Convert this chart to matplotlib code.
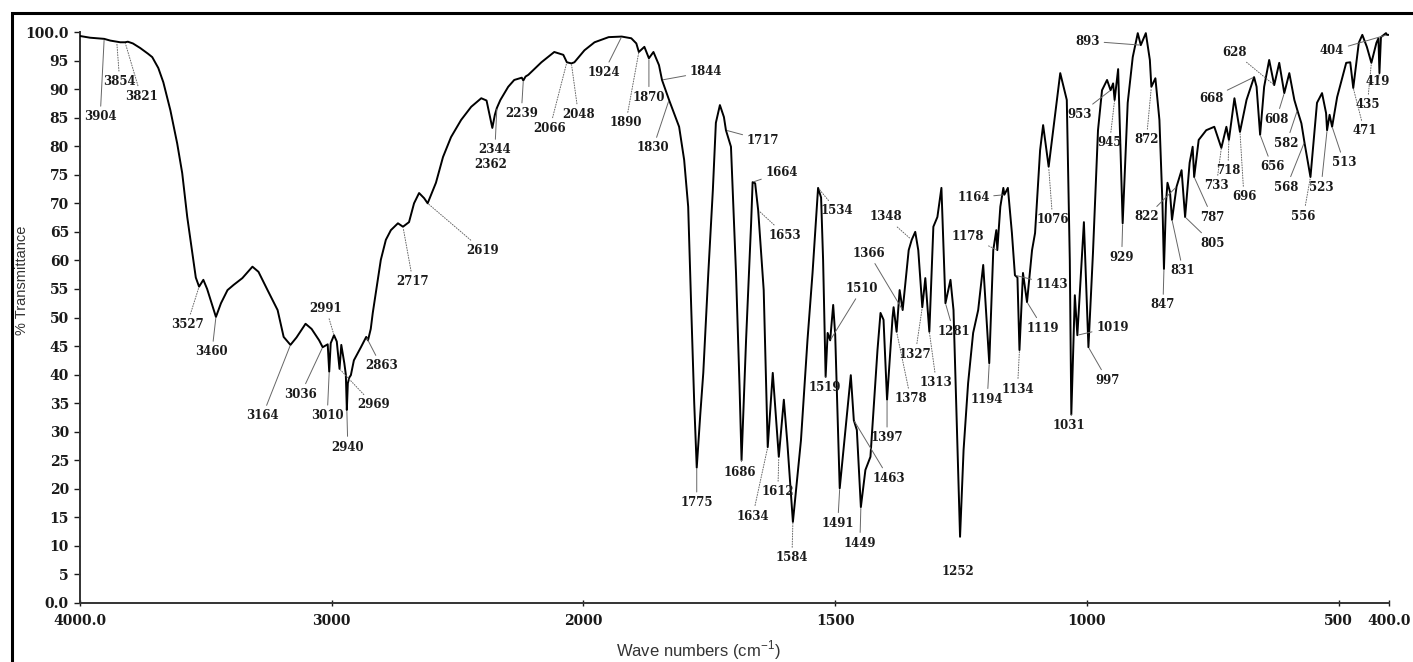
import numpy as np
import matplotlib
matplotlib.use('Agg')
import matplotlib.pyplot as plt
from matplotlib.patches import Rectangle

plt.rcParams['mathtext.fontset'] = 'custom'
plt.rcParams['mathtext.rm'] = 'Liberation Sans'

# IR spectrum: wavenumber (cm-1) and % transmittance
wavenumber = [4000, 3960, 3904, 3880, 3854, 3840, 3821, 3810, 3790, 3761, 3730, 3713, 3689, 3669, 3641,
              3614, 3594, 3574, 3554, 3540, 3527, 3510, 3495, 3460, 3440, 3414, 3390, 3355, 3315, 3291,
              3255, 3215, 3191, 3164, 3140, 3104, 3080, 3050, 3036, 3016, 3010, 3004, 2991, 2980, 2969,
              2962, 2950, 2944, 2940, 2936, 2930, 2924, 2912, 2884, 2870, 2863, 2856, 2845, 2837, 2825,
              2805, 2785, 2765, 2737, 2717, 2693, 2673, 2653, 2633, 2619, 2586, 2558, 2526, 2486, 2446,
              2406, 2385, 2362, 2352, 2344, 2330, 2299, 2275, 2245, 2239, 2230, 2219, 2167, 2116, 2080,
              2066, 2048, 2036, 1998, 1978, 1950, 1924, 1905, 1895, 1890, 1879, 1870, 1861, 1850, 1844,
              1830, 1810, 1800, 1792, 1786, 1780, 1775, 1768, 1762, 1752, 1743, 1737, 1729, 1721, 1717,
              1707, 1697, 1690, 1686, 1677, 1667, 1664, 1659, 1653, 1642, 1634, 1624, 1612, 1602, 1595,
              1584, 1568, 1555, 1545, 1534, 1528, 1524, 1519, 1515, 1510, 1504, 1500, 1491, 1469, 1463,
              1457, 1449, 1440, 1430, 1416, 1410, 1404, 1397, 1386, 1384, 1378, 1372, 1366, 1354, 1348,
              1341, 1335, 1327, 1321, 1313, 1305, 1297, 1289, 1284, 1281, 1271, 1265, 1252, 1245, 1236,
              1226, 1216, 1206, 1194, 1186, 1180, 1178, 1172, 1166, 1164, 1157, 1149, 1143, 1138, 1134,
              1127, 1119, 1109, 1103, 1093, 1087, 1076, 1053, 1040, 1034, 1031, 1024, 1019, 1006, 997,
              988, 978, 970, 960, 953, 948, 945, 938, 929, 919, 909, 899, 893, 883, 875,
              872, 864, 856, 850, 847, 843, 840, 835, 831, 822, 812, 805, 796, 790, 787,
              778, 763, 747, 733, 723, 718, 707, 696, 683, 668, 663, 656, 648, 638, 628,
              618, 608, 598, 588, 582, 574, 568, 556, 543, 533, 525, 523, 518, 513, 503,
              485, 477, 471, 460, 453, 444, 435, 425, 421, 419, 416, 406, 404, 400]
transmittance = [99.3, 99.0, 98.8, 98.5, 98.3, 98.2, 98.2, 98.3, 98.0, 97.2, 96.2, 95.6, 93.7, 91.2, 86.3,
                 80.5, 75.3, 67.6, 61.3, 57.0, 55.4, 56.6, 55.0, 50.1, 52.5, 54.8, 55.7, 56.9, 58.9, 58.0,
                 54.8, 51.3, 46.6, 45.2, 46.5, 48.9, 48.0, 46.0, 44.8, 45.3, 40.5, 45.5, 46.9, 45.8, 41.0,
                 45.2, 42.0, 40.0, 33.8, 38.5, 39.5, 39.9, 42.5, 44.8, 46.0, 46.6, 46.0, 48.0, 50.8, 54.3,
                 60.1, 63.6, 65.3, 66.5, 65.9, 66.7, 70.0, 71.8, 70.9, 70.0, 73.6, 78.1, 81.6, 84.6, 86.9,
                 88.4, 88.0, 83.2, 85.5, 86.7, 88.1, 90.4, 91.6, 92.0, 91.5, 92.2, 92.5, 94.7, 96.5, 96.0,
                 94.7, 94.5, 94.7, 96.8, 98.2, 99.1, 99.2, 98.9, 98.0, 96.5, 97.4, 95.4, 96.5, 94.2, 91.6,
                 88.1, 83.4, 77.6, 69.4, 51.8, 35.0, 23.7, 33.0, 40.3, 57.8, 72.3, 84.1, 87.2, 85.1, 82.8,
                 79.9, 57.8, 38.0, 25.0, 46.1, 66.5, 73.7, 73.5, 68.8, 54.8, 27.3, 40.3, 25.6, 35.6, 28.0,
                 14.2, 28.5, 46.1, 57.8, 72.7, 71.0, 60.0, 39.6, 47.3, 46.0, 52.2, 47.0, 20.1, 39.9, 32.0,
                 30.3, 16.8, 23.3, 25.6, 44.3, 50.8, 49.6, 35.6, 50.1, 51.8, 47.5, 54.8, 51.3, 61.8, 63.6,
                 65.0, 61.8, 51.8, 56.9, 47.5, 65.9, 67.6, 72.7, 60.0, 52.5, 56.6, 51.3, 11.6, 26.8, 38.5,
                 47.3, 51.3, 59.2, 42.0, 61.8, 65.3, 61.8, 69.4, 72.7, 71.5, 72.7, 64.8, 57.4, 57.0, 44.3,
                 57.8, 52.7, 61.8, 64.8, 79.3, 83.7, 76.4, 92.8, 88.1, 60.0, 33.0, 53.9, 46.9, 66.7, 44.8,
                 61.3, 82.8, 89.8, 91.6, 89.8, 91.0, 88.1, 93.5, 66.5, 87.6, 95.6, 99.8, 97.7, 99.8, 95.1,
                 90.4, 91.9, 84.6, 70.0, 58.5, 70.0, 73.6, 72.0, 67.1, 72.9, 75.8, 67.6, 77.1, 79.9, 74.6,
                 81.1, 82.8, 83.4, 79.7, 83.4, 81.1, 88.4, 82.5, 88.1, 92.1, 90.4, 82.0, 90.4, 95.1, 90.7,
                 94.6, 89.3, 92.8, 88.1, 86.3, 84.0, 80.7, 74.6, 87.6, 89.3, 85.8, 82.8, 85.5, 83.4, 88.6,
                 94.6, 94.7, 90.2, 98.1, 99.5, 97.4, 94.6, 98.1, 98.9, 92.8, 99.1, 99.8, 99.5, 99.5]

# labelled bands
peaks = [3904, 3854, 3821, 3527, 3460, 3164, 3036, 3010, 2991, 2969, 2940, 2863, 2717, 2619, 2362,
         2344, 2239, 2066, 2048, 1924, 1890, 1870, 1844, 1830, 1775, 1717, 1686, 1664, 1653, 1634,
         1612, 1584, 1534, 1519, 1510, 1491, 1463, 1449, 1397, 1378, 1366, 1348, 1327, 1313, 1281,
         1252, 1194, 1178, 1164, 1143, 1134, 1119, 1076, 1031, 1019, 997, 953, 945, 929, 893,
         872, 847, 831, 822, 805, 787, 733, 718, 696, 668, 656, 628, 608, 582, 568,
         556, 523, 513, 471, 435, 419, 404]

xticks = [4000, 3000, 2000, 1500, 1000, 500, 400]
xticklabels = ['4000.0', '3000', '2000', '1500', '1000', '500', '400.0']
yticks = list(range(0, 101, 5))
yticklabels = ['0.0'] + [str(v) for v in yticks[1:-1]] + ['100.0']

# label placement, pixel offsets from the band position
label_offset = {
    3904: (-4, -78), 3854: (3, -40), 3821: (16, -54), 3527: (-12, -38), 3460: (-4, -35),
    3164: (-28, -71), 3036: (-22, -47), 3010: (-2, -44), 2991: (-8, 27), 2969: (34, -36),
    2940: (1, -37), 2863: (15, -29), 2717: (10, -55), 2619: (55, -47), 2362: (-2, -37),
    2344: (-2, -42), 2239: (-2, -33), 2066: (-17, -66), 2048: (7, -51), 1924: (-18, -36),
    1890: (-13, -71), 1870: (0, -39), 1844: (44, 8), 1830: (-16, -48), 1775: (0, -35),
    1717: (37, -10), 1686: (-2, -12), 1664: (29, 10), 1653: (27, -25), 1634: (-15, -69),
    1612: (-1, -35), 1584: (-1, -36), 1534: (19, -23), 1519: (-1, -11), 1510: (32, 52),
    1491: (-2, -35), 1463: (35, -58), 1449: (-1, -36), 1397: (0, -38), 1378: (14, -67),
    1366: (-34, 57), 1348: (-26, 23), 1327: (-7, -47), 1313: (7, -51), 1281: (8, -28),
    1252: (-2, -35), 1194: (-2, -36), 1178: (-29, 14), 1164: (-31, -3), 1143: (37, -9),
    1134: (-2, -39), 1119: (16, -26), 1076: (4, -53), 1031: (-2, -11), 1019: (35, 8),
    997: (19, -33), 953: (-31, -24), 945: (-5, -43), 929: (-1, -34), 893: (-53, 4),
    872: (-5, -53), 847: (-1, -36), 831: (11, -51), 822: (-30, -30), 805: (27, -26),
    787: (18, -40), 733: (-5, -38), 718: (-1, -31), 696: (4, -65), 668: (-43, -21),
    656: (12, -32), 628: (-40, 33), 608: (-8, -26), 582: (-11, -33), 568: (-18, -45),
    556: (-7, -39), 523: (-6, -57), 513: (12, -36), 471: (11, -43), 435: (-4, -42),
    419: (-2, -8), 404: (-55, -16),
}
dotted = {3854, 3821, 3527, 2991, 2969, 2717, 2619, 2066, 2048, 1890, 1653, 1634, 1612, 1584,
          1534, 1378, 1348, 1327, 1313, 1178, 1134, 1076, 945, 872, 733, 718, 696, 628, 556,
          471, 435}
no_leader = {2362, 1252}


# wavenumber axis: 4000-2000 drawn at half the scale of 2000-400
def fwd(x):
    x = np.asarray(x, dtype=float)
    return np.where(x > 2000, 2000 + (x - 2000) / 2, x)


def inv(u):
    u = np.asarray(u, dtype=float)
    return np.where(u > 2000, 2000 + (u - 2000) * 2, u)


fig = plt.figure(figsize=(14.13, 6.62), dpi=100)
ax = fig.add_axes([80 / 1413, 59 / 662, 1309 / 1413, 571 / 662])
ax.set_xscale('function', functions=(fwd, inv))

ax.plot(wavenumber, transmittance, color='black', lw=1.4, zorder=3)

ax.set_xlim(4000, 400)
ax.set_ylim(0, 100)
ax.set_xticks(xticks)
ax.set_xticklabels(xticklabels)
ax.set_yticks(yticks)
ax.set_yticklabels(yticklabels)
ax.minorticks_off()

for s in ['top', 'right']:
    ax.spines[s].set_visible(False)
for s in ['left', 'bottom']:
    ax.spines[s].set_color('0.2')
    ax.spines[s].set_linewidth(1.4)

tick_font = dict(family='DejaVu Serif', weight='bold', size=10)
ax.tick_params(axis='y', direction='out', length=4, width=1, pad=4, colors='0.1')
ax.tick_params(axis='x', direction='inout', length=4, width=1, pad=6, colors='0.1')
for lab in ax.get_xticklabels() + ax.get_yticklabels():
    lab.set_fontproperties(tick_font)

for w in peaks:
    t = np.interp(w, wavenumber[::-1], transmittance[::-1])
    dx, dy = label_offset[w]
    props = None
    if w not in no_leader:
        props = dict(arrowstyle='-', lw=0.7, color='0.4',
                     ls=':' if w in dotted else '-', shrinkA=1, shrinkB=1)
    ax.annotate(str(w), xy=(w, t), xytext=(dx, dy), textcoords='offset pixels',
                ha='center', va='center', fontsize=8.5, fontweight='bold',
                family='DejaVu Serif', color='0.1', arrowprops=props, zorder=4)

fig.text(22 / 1413, 1 - 280 / 662, '% Transmittance', rotation=90, ha='center', va='center',
         family='Liberation Sans', fontsize=10.5, color='0.2')
fig.text(698 / 1413, 1 - 650 / 662, r'Wave numbers (cm$^{\mathregular{-1}}$)', ha='center',
         va='center', family='Liberation Sans', fontsize=12, color='0.2')

# outer frame
fig.patches.append(Rectangle((12 / 1413, -0.1), 1.2, 1 - 13 / 662 + 0.1, transform=fig.transFigure,
                             fill=False, lw=2.2, ec='black'))

fig.savefig('out.png', dpi=100)
